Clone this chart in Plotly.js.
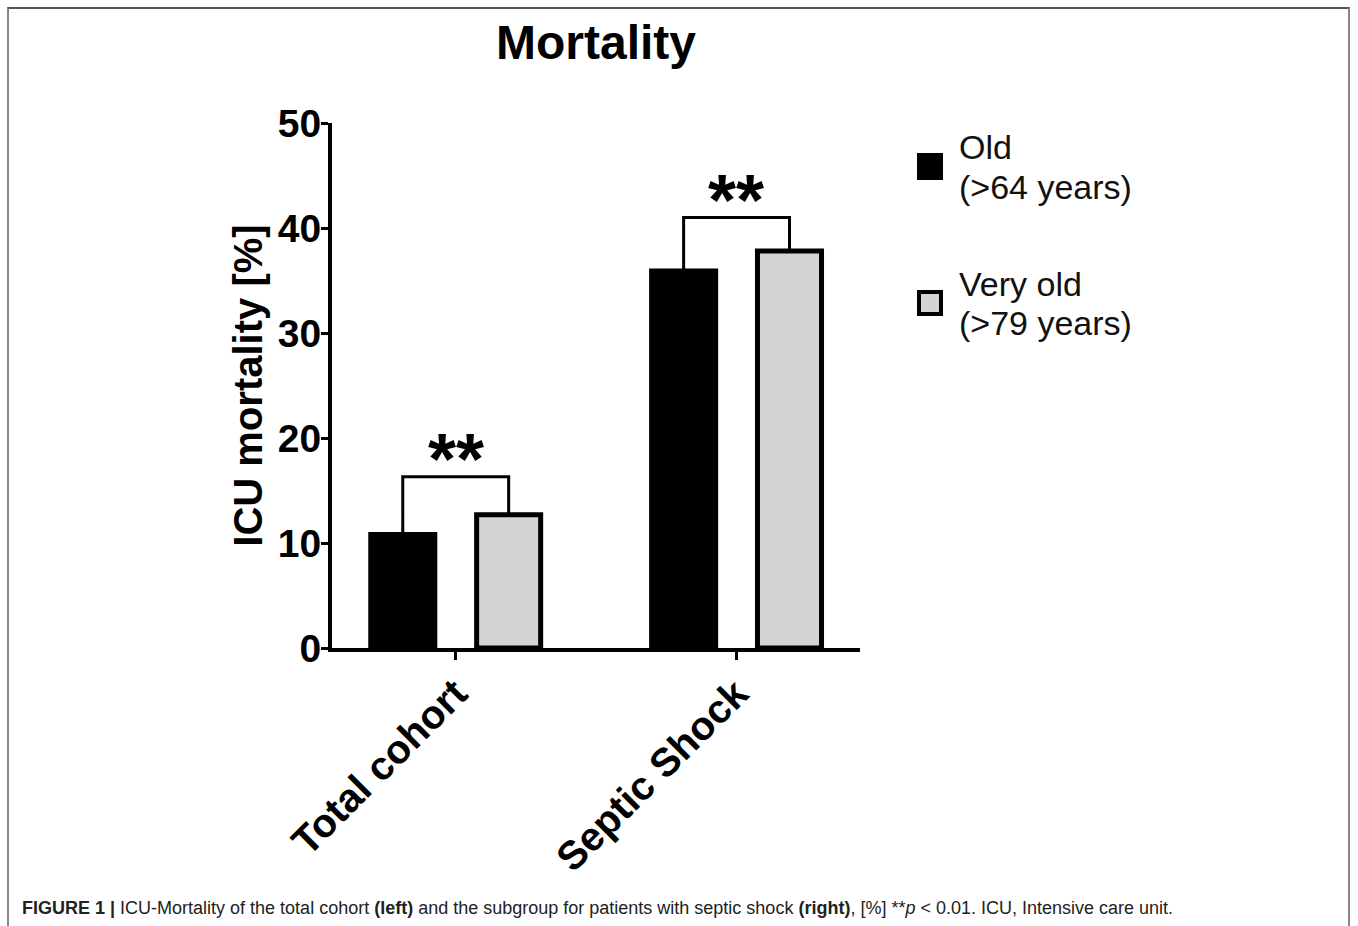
<!DOCTYPE html>
<html>
<head>
<meta charset="utf-8">
<script src="https://cdn.plot.ly/plotly-3.0.1.min.js"></script>
<style>
  html, body { margin: 0; padding: 0; background: #fff; }
  #chart { width: 1358px; height: 926px; }
  #frame { position: absolute; left: 7px; top: 7px; width: 1343px; height: 930px;
           border-top: 2px solid #555; border-left: 2px solid #888; border-right: 2px solid #888;
           pointer-events: none; box-sizing: border-box; }
</style>
</head>
<body>
<div id="chart"></div>
<div id="frame"></div>
<script>
// ---- data ----
const categories = ["Total cohort", "Septic Shock"];
const oldValues = [10.8, 35.9];       // Old (>64 years)
const veryOldValues = [12.7, 37.8];   // Very old (>79 years)
const legendLines = [["Old", "(&gt;64 years)"], ["Very old", "(&gt;79 years)"]];
const sigLabels = ["**", "**"];
const sigBracketTop = [16.3, 41.0];
const yTicks = [0, 10, 20, 30, 40, 50];

// ---- bar geometry (category units) ----
const barWidth = 0.228;
const offOld = -0.302;
const offVery = 0.075;
const FONT = "Liberation Sans, Arial, Helvetica, sans-serif";

const traces = [
  {
    type: "bar", name: "Old", x: categories, y: oldValues,
    width: barWidth, offset: offOld,
    marker: { color: "#000000", line: { color: "#000000", width: 5 } },
    showlegend: false, hoverinfo: "y"
  },
  {
    type: "bar", name: "Very old", x: categories, y: veryOldValues,
    width: barWidth, offset: offVery,
    marker: { color: "#d4d4d4", line: { color: "#000000", width: 5 } },
    showlegend: false, hoverinfo: "y"
  }
];

// significance brackets
const shapes = [];
const annotations = [];
categories.forEach((c, i) => {
  const xl = i + offOld + barWidth / 2;
  const xr = i + offVery + barWidth / 2;
  shapes.push({
    type: "path", xref: "x", yref: "y",
    path: `M ${xl},${oldValues[i]} L ${xl},${sigBracketTop[i]} L ${xr},${sigBracketTop[i]} L ${xr},${veryOldValues[i]}`,
    line: { color: "#000", width: 3 }
  });
  annotations.push({
    xref: "x", yref: "y", x: i, y: sigBracketTop[i], yanchor: "bottom",
    text: sigLabels[i], showarrow: false, yshift: -24,
    font: { family: FONT, size: 72, color: "#000", weight: "bold" }
  });
});

// legend (drawn manually, large symbols)
const pxX = px => (px - 332) / 528;
const pxY = py => (648 - py) / 525;
shapes.push({
  type: "rect", xref: "paper", yref: "paper",
  x0: pxX(917), x1: pxX(943), y0: pxY(180), y1: pxY(153),
  fillcolor: "#000", line: { color: "#000", width: 0 }
});
shapes.push({
  type: "rect", xref: "paper", yref: "paper",
  x0: pxX(919), x1: pxX(941), y0: pxY(314), y1: pxY(292),
  fillcolor: "#d4d4d4", line: { color: "#000", width: 4 }
});
const legendLineY = [[147, 187], [284, 323]];
legendLines.forEach((lines, k) => {
  lines.forEach((t, j) => {
    annotations.push({
      xref: "paper", yref: "paper", x: pxX(957), y: pxY(legendLineY[k][j]),
      xanchor: "left", yanchor: "middle", align: "left", text: t, showarrow: false,
      font: { family: FONT, size: 34, color: "#111" }
    });
  });
});

// caption
annotations.push({
  xref: "paper", yref: "paper", x: pxX(20), y: pxY(908), xanchor: "left", yanchor: "middle",
  align: "left", showarrow: false,
  text: "<b>FIGURE 1 |</b> ICU-Mortality of the total cohort <b>(left)</b> and the subgroup for patients with septic shock <b>(right)</b>, [%] **<i>p</i> &lt; 0.01. ICU, Intensive care unit.",
  font: { family: FONT, size: 18, color: "#222" }
});

const layout = {
  width: 1358, height: 926,
  margin: { l: 332, r: 498, t: 123, b: 278 },
  paper_bgcolor: "#fff", plot_bgcolor: "#fff",
  font: { family: FONT, color: "#000" },
  title: {
    text: "Mortality", x: 0.5, xref: "paper", xanchor: "center",
    y: 1 - 42 / 926, yref: "container", yanchor: "middle",
    font: { family: FONT, size: 48, color: "#000", weight: "bold" }
  },
  barmode: "overlay",
  xaxis: {
    type: "category", range: [-0.44, 1.44],
    showline: true, linecolor: "#000", linewidth: 4,
    ticks: "outside", ticklen: 8, tickwidth: 3, tickcolor: "#000",
    tickangle: -45, showgrid: false, zeroline: false,
    ticklabelstandoff: -6,
    tickfont: { family: FONT, size: 40, color: "#000", weight: "bold" }
  },
  yaxis: {
    range: [0, 50], tickvals: yTicks, ticktext: yTicks.map(String),
    showline: true, linecolor: "#000", linewidth: 4,
    ticks: "outside", ticklen: 7, tickwidth: 3, tickcolor: "#000",
    showgrid: false, zeroline: false,
    ticklabelstandoff: -8,
    tickfont: { family: FONT, size: 39, color: "#000", weight: "bold" },
    title: { text: "ICU mortality [%]", standoff: 4,
             font: { family: FONT, size: 40, color: "#000", weight: "bold" } }
  },
  shapes: shapes,
  annotations: annotations,
  showlegend: false
};

Plotly.newPlot("chart", traces, layout, { displayModeBar: false, staticPlot: true });
</script>
</body>
</html>
